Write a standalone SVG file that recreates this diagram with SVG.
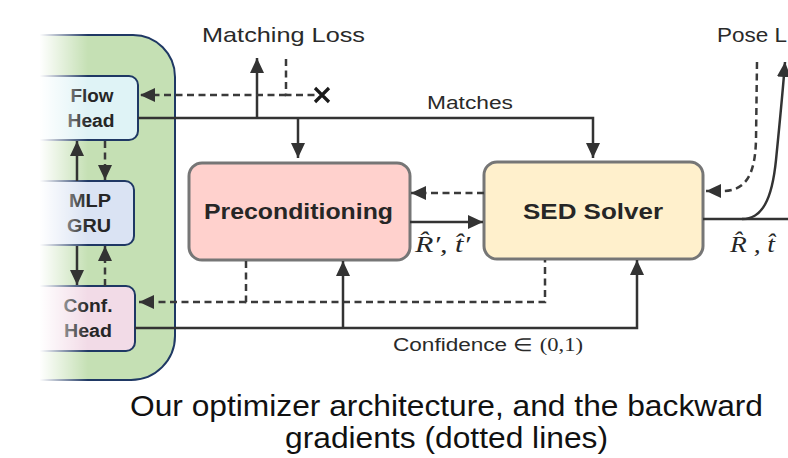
<svg xmlns="http://www.w3.org/2000/svg" width="788" height="458" viewBox="0 0 788 458">
<style>
.node{stroke:#1f3864;stroke-width:2}
.big{stroke:#767676;stroke-width:3}
.lbl{font-family:"Liberation Sans",Arial,sans-serif;font-weight:bold;fill:#262626}
.thin{font-family:"Liberation Sans",Arial,sans-serif;fill:#2a2a2a}
.math{font-family:"Liberation Serif","DejaVu Serif",serif;font-style:italic;fill:#262626}
.cap{font-family:"Liberation Sans",Arial,sans-serif;fill:#111}
.ln{fill:none;stroke:#333;stroke-width:2.5}
.ds{fill:none;stroke:#3a3a3a;stroke-width:2.5;stroke-dasharray:7 4.5}
</style>
<defs>
<marker id="ah" viewBox="0 0 15 14" refX="15" refY="7" markerWidth="15" markerHeight="14" markerUnits="userSpaceOnUse" orient="auto">
<path d="M0,0 L15,7 L0,14 z" fill="#333"/>
</marker>
<linearGradient id="fade" x1="0" y1="0" x2="1" y2="0">
<stop offset="0" stop-color="#fff" stop-opacity="1"/>
<stop offset="0.45" stop-color="#fff" stop-opacity="1"/>
<stop offset="1" stop-color="#fff" stop-opacity="0"/>
</linearGradient>
</defs>
<rect width="788" height="458" fill="#fff"/>

<g id="container">
<path d="M0,35 H133 A42,42 0 0 1 175,77 V336 A44,44 0 0 1 131,380 H0 Z" fill="#c5e0b4" stroke="#1f3864" stroke-width="2"/>
</g>

<g id="flow-head">
<rect class="node" x="0" y="76" width="138" height="64" rx="9" fill="#dff3f6"/>
<text class="lbl" font-size="17.5" x="92" y="102" text-anchor="middle" textLength="43" lengthAdjust="spacingAndGlyphs">Flow</text>
<text class="lbl" font-size="17.5" x="91" y="127" text-anchor="middle" textLength="47" lengthAdjust="spacingAndGlyphs">Head</text>
</g>

<g id="mlp-gru">
<rect class="node" x="0" y="181" width="134" height="64" rx="9" fill="#dae3f3"/>
<text class="lbl" font-size="17.5" x="90" y="207" text-anchor="middle" textLength="42" lengthAdjust="spacingAndGlyphs">MLP</text>
<text class="lbl" font-size="17.5" x="89" y="232" text-anchor="middle" textLength="44" lengthAdjust="spacingAndGlyphs">GRU</text>
</g>

<g id="conf-head">
<rect class="node" x="0" y="286" width="135" height="65" rx="9" fill="#f2dbe7"/>
<text class="lbl" font-size="17.5" x="88" y="312" text-anchor="middle" textLength="49" lengthAdjust="spacingAndGlyphs">Conf.</text>
<text class="lbl" font-size="17.5" x="88" y="337" text-anchor="middle" textLength="48" lengthAdjust="spacingAndGlyphs">Head</text>
</g>

<rect x="0" y="30" width="88" height="355" fill="url(#fade)"/>

<g id="preconditioning">
<rect class="big" x="189" y="163" width="221" height="97" rx="13" fill="#ffd1cd"/>
<text class="lbl" font-size="21.5" x="204" y="219" textLength="189" lengthAdjust="spacingAndGlyphs">Preconditioning</text>
</g>

<g id="sed-solver">
<rect class="big" x="484" y="162" width="219" height="97" rx="13" fill="#fff0cc"/>
<text class="lbl" font-size="21.5" x="523" y="219" textLength="140" lengthAdjust="spacingAndGlyphs">SED Solver</text>
</g>

<g id="labels">
<text class="thin" font-size="21" x="202" y="42" textLength="163" lengthAdjust="spacingAndGlyphs">Matching Loss</text>
<text class="thin" font-size="21" x="717" y="42" textLength="70" lengthAdjust="spacingAndGlyphs">Pose L</text>
<text class="thin" font-size="17.5" x="427" y="109" textLength="86" lengthAdjust="spacingAndGlyphs">Matches</text>
<text class="thin" font-size="18" x="393" y="351" textLength="190" lengthAdjust="spacingAndGlyphs">Confidence ∈ <tspan font-family="Liberation Serif,serif">(0,1)</tspan></text>
<text class="math" font-size="23" x="415" y="252" textLength="55" lengthAdjust="spacingAndGlyphs">R̂′, t̂′</text>
<text class="math" font-size="23" x="730" y="252" textLength="45" lengthAdjust="spacingAndGlyphs">R̂ , t̂</text>
</g>

<g id="connectors">
<line class="ln" x1="77" y1="181" x2="77" y2="141" marker-end="url(#ah)"/>
<line class="ds" x1="105" y1="141" x2="105" y2="180" marker-end="url(#ah)"/>
<line class="ln" x1="77" y1="246" x2="77" y2="285" marker-end="url(#ah)"/>
<line class="ds" x1="105" y1="286" x2="105" y2="246" marker-end="url(#ah)"/>
<polyline class="ln" points="138,118 593,118 593,158" marker-end="url(#ah)"/>
<line class="ln" x1="257" y1="118" x2="257" y2="58" marker-end="url(#ah)"/>
<line class="ln" x1="298" y1="118" x2="298" y2="158" marker-end="url(#ah)"/>
<polyline class="ds" points="286,59 286,95 315,95"/>
<line class="ds" x1="286" y1="95" x2="140" y2="95" marker-end="url(#ah)"/>
<path d="M315,88 L329,102 M329,88 L315,102" stroke="#1a1a1a" stroke-width="3.2" fill="none"/>
<line class="ds" x1="484" y1="193" x2="411" y2="193" marker-end="url(#ah)"/>
<line class="ln" x1="410" y1="222" x2="483" y2="222" marker-end="url(#ah)"/>
<polyline class="ds" points="246,261 246,302 545,302 545,260"/>
<line class="ds" x1="246" y1="302" x2="139" y2="302" marker-end="url(#ah)"/>
<polyline class="ln" points="135,328 637,328 637,260" marker-end="url(#ah)"/>
<line class="ln" x1="343" y1="328" x2="343" y2="261" marker-end="url(#ah)"/>
<line class="ln" x1="703" y1="219" x2="788" y2="219"/>
<path class="ln" d="M742,219 C762,219 772,200 776,160 C780,120 783,90 785,62" marker-end="url(#ah)"/>
<path class="ds" d="M757,62 L756,140 C755,175 746,191 722,191 L706,191" marker-end="url(#ah)"/>
</g>

<g id="caption">
<text class="cap" font-size="29" x="130" y="416" textLength="633" lengthAdjust="spacingAndGlyphs">Our optimizer architecture, and the backward</text>
<text class="cap" font-size="29" x="285" y="448" textLength="323" lengthAdjust="spacingAndGlyphs">gradients (dotted lines)</text>
</g>
</svg>
